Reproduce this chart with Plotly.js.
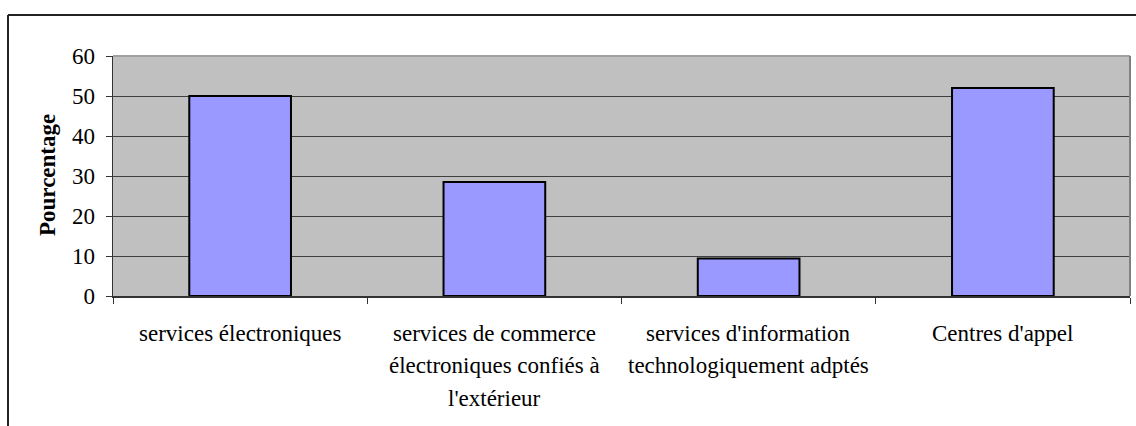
<!DOCTYPE html>
<html>
<head>
<meta charset="utf-8">
<script src="https://cdn.plot.ly/plotly-3.0.1.min.js"></script>
<style>
  html, body { margin: 0; padding: 0; background: #fff; }
  #chart { width: 1136px; height: 426px; }
</style>
</head>
<body>
<div id="chart"></div>
<script>
// ---- data ----
var categoryLines = [
  ["services électroniques"],
  ["services de commerce", "électroniques confiés à", "l'extérieur"],
  ["services d'information", "technologiquement adptés"],
  ["Centres d'appel"]
];
var categories = categoryLines.map(function (l) { return l.join(" "); });
var values = [50, 28.5, 9.4, 52];
var yTickVals = [0, 10, 20, 30, 40, 50, 60];
var yAxisTitle = "Pourcentage";

// ---- layout constants ----
var FONT = "Liberation Serif";
var plotL = 113, plotR = 1130, plotT = 56, plotB = 296, W = 1136, H = 426;
var pw = plotR - plotL, ph = plotB - plotT;
function px2x(p) { return (p - plotL) / pw; }
function px2y(p) { return (plotB - p) / ph; }

var annotations = [];
categoryLines.forEach(function (lines, i) {
  lines.forEach(function (t, j) {
    annotations.push({
      x: categories[i], xref: "x", y: 0, yref: "paper",
      text: t, showarrow: false, xanchor: "center", yanchor: "middle",
      yshift: -(37 + j * 32.5),
      font: { family: FONT, size: 23, color: "#000" }
    });
  });
});
annotations.push({
  x: px2x(47), xref: "paper", y: px2y(175), yref: "paper",
  text: "<b>" + yAxisTitle + "</b>", textangle: -90, showarrow: false,
  xanchor: "center", yanchor: "middle",
  font: { family: FONT, size: 23, color: "#000" }
});

var shapes = [
  // outer frame (top and left lines)
  { type: "line", xref: "paper", yref: "paper", x0: px2x(8), x1: px2x(W + 5), y0: px2y(15), y1: px2y(15),
    line: { color: "#222", width: 2 } },
  { type: "line", xref: "paper", yref: "paper", x0: px2x(8), x1: px2x(8), y0: px2y(15), y1: px2y(H + 5),
    line: { color: "#222", width: 2 } },
  // plot area top/right border
  { type: "line", xref: "paper", yref: "paper", x0: 0, x1: 1, y0: 1, y1: 1,
    line: { color: "#a0a0a0", width: 2 } },
  { type: "line", xref: "paper", yref: "paper", x0: 1, x1: 1, y0: 0, y1: 1,
    line: { color: "#808080", width: 2 } }
];

var trace = {
  type: "bar",
  x: categories,
  y: values,
  width: 0.4,
  marker: { color: "#9999ff", line: { color: "#000", width: 2 } },
  hoverinfo: "none"
};

var layout = {
  width: W, height: H,
  margin: { l: plotL, r: W - plotR, t: plotT, b: H - plotB, pad: 0 },
  paper_bgcolor: "#fff",
  plot_bgcolor: "#c0c0c0",
  font: { family: FONT, size: 23, color: "#000" },
  showlegend: false,
  bargap: 0.6,
  xaxis: {
    type: "category",
    showticklabels: false,
    ticks: "outside", ticklen: 6, tickwidth: 1, tickcolor: "#333",
    tickson: "boundaries",
    showline: true, linecolor: "#333", linewidth: 1.5,
    showgrid: false, zeroline: false, fixedrange: true
  },
  yaxis: {
    range: [0, 60],
    tickvals: yTickVals,
    ticks: "outside", ticklen: 6, tickwidth: 1, tickcolor: "#333",
    ticklabelstandoff: 6,
    tickfont: { family: FONT, size: 23, color: "#000" },
    showline: true, linecolor: "#333", linewidth: 1.5,
    showgrid: true, gridcolor: "#404040", gridwidth: 1,
    zeroline: false, fixedrange: true
  },
  annotations: annotations,
  shapes: shapes
};

Plotly.newPlot("chart", [trace], layout, { displayModeBar: false, staticPlot: true });
</script>
</body>
</html>
